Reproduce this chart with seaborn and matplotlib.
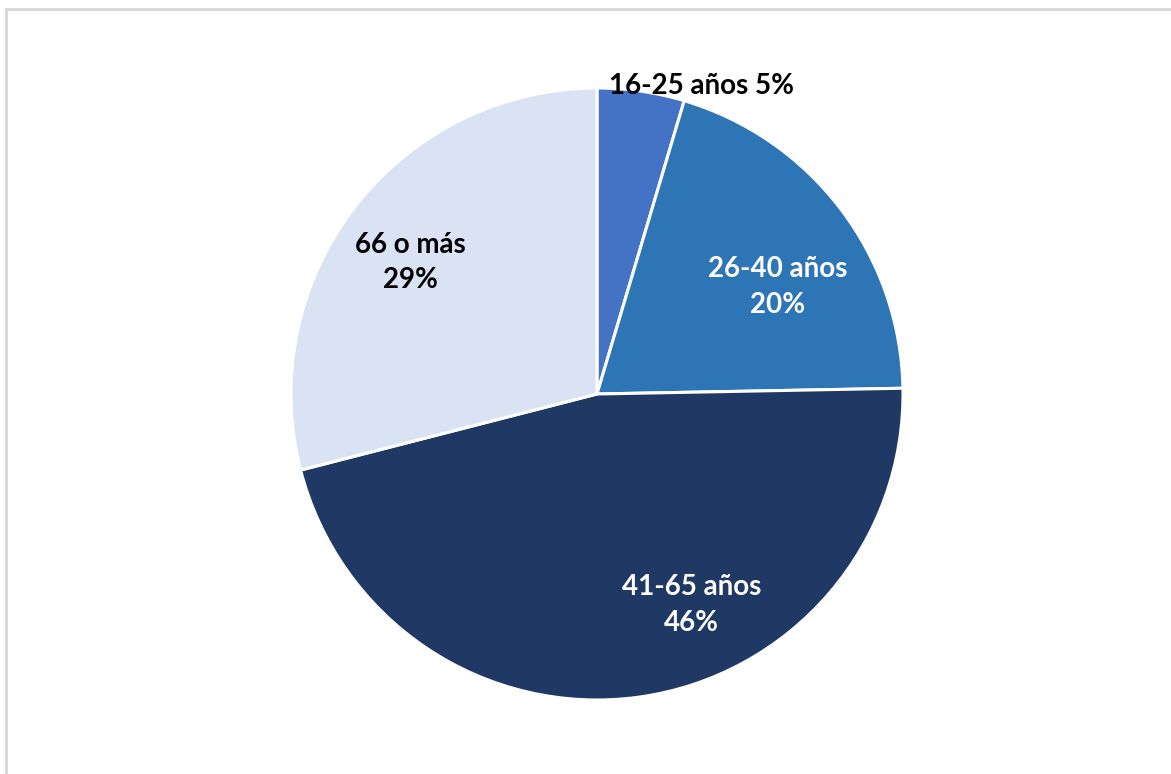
import matplotlib
matplotlib.use("Agg")
import matplotlib.pyplot as plt
from matplotlib.lines import Line2D
import seaborn as sns
import numpy as np

grupos = ["16-25 años", "26-40 años", "41-65 años", "66 o más"]
porcentajes = [4.6, 20.1, 46.3, 29.0]
colores = ["#4472C4", "#2E75B6", "#203864", "#DAE3F3"]
color_texto = ["black", "white", "white", "black"]

sns.set_theme(style="white")
plt.rcParams["font.family"] = ["Lato", "DejaVu Sans"]

W, H = 1171, 774
fig = plt.figure(figsize=(W / 100, H / 100), dpi=100)
fig.patch.set_facecolor("white")

# centro y radio del pastel en píxeles
cx, cy, r = 597, 394, 306
ax = fig.add_axes([(cx - r) / W, (H - cy - r) / H, 2 * r / W, 2 * r / H])

wedges, _ = ax.pie(
    porcentajes,
    colors=sns.color_palette(colores),
    startangle=90,
    counterclock=False,
    radius=1,
    wedgeprops=dict(edgecolor="white", linewidth=2.2),
)
ax.set_xlim(-1, 1)
ax.set_ylim(-1, 1)
ax.set_aspect("equal")
ax.axis("off")

# posiciones de las etiquetas (en radios)
pos_etiquetas = [(0.34, 1.005), (0.59, 0.35), (0.31, -0.69), (-0.61, 0.43)]
for i, (g, p) in enumerate(zip(grupos, porcentajes)):
    if i == 0:
        txt = f"{g} {p:.0f}%"
    else:
        txt = f"{g}\n{p:.0f}%"
    x, y = pos_etiquetas[i]
    ax.text(x, y, txt, ha="center", va="center", fontsize=20,
            fontweight="bold", color=color_texto[i], linespacing=1.45)

# borde gris del área del gráfico
fig.add_artist(Line2D([6 / W, 1.0], [1 - 9 / H, 1 - 9 / H], color="#D9D9D9",
                      linewidth=2.2, transform=fig.transFigure))
fig.add_artist(Line2D([6 / W, 6 / W], [1 - 9 / H, 0], color="#D9D9D9",
                      linewidth=2.2, transform=fig.transFigure))

fig.savefig("out.png", dpi=100)
